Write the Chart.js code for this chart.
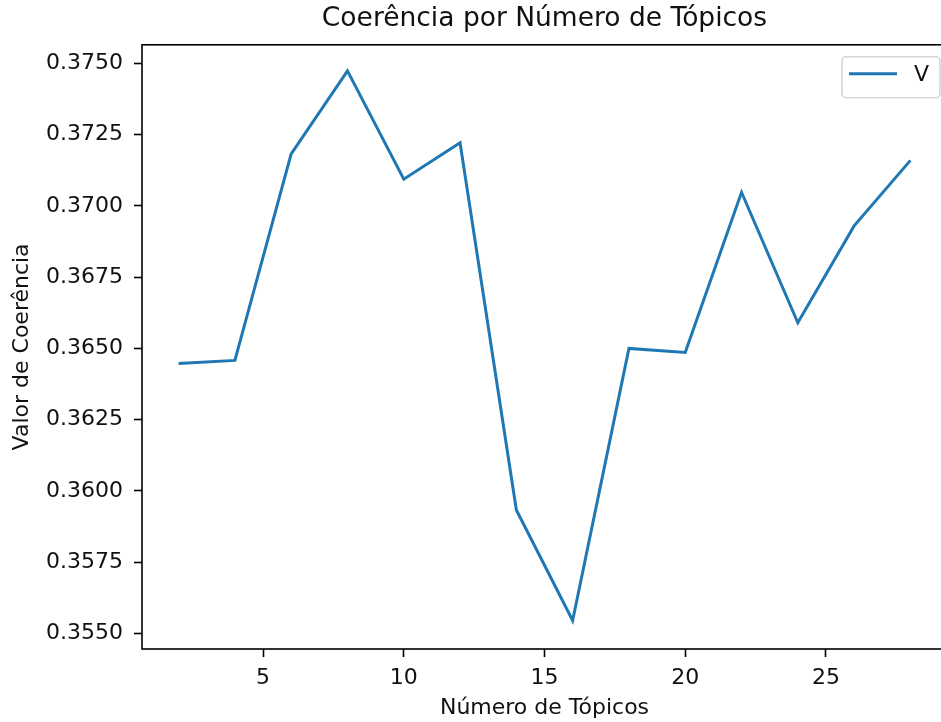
<!DOCTYPE html>
<html>
<head>
<meta charset="utf-8">
<script src="https://cdn.jsdelivr.net/npm/chart.js@4.4.1/dist/chart.umd.min.js"></script>
<style>
  html, body { margin: 0; padding: 0; background: #fff; overflow: hidden; }
  #wrap { width: 948px; height: 722px; }
</style>
</head>
<body>
<div id="wrap"><canvas id="coherenceChart" width="948" height="722"></canvas></div>
<script>
const topics = [2, 4, 6, 8, 10, 12, 14, 16, 18, 20, 22, 24, 26, 28];
const coherence = [0.36447, 0.36458, 0.37183, 0.37474, 0.37094, 0.37222, 0.35933, 0.35545,
                   0.36500, 0.36486, 0.37048, 0.36590, 0.36930, 0.37160];
const xTicks = [5, 10, 15, 20, 25];
const yTicks = [0.3550, 0.3575, 0.3600, 0.3625, 0.3650, 0.3675, 0.3700, 0.3725, 0.3750];
const seriesLabel = "V";

const FONT = "'DejaVu Sans', sans-serif";
const LINE_COLOR = "#1f77b4";
const TEXT = "#111";

// matplotlib-like frame (all four spines) and the boxed legend
const framePlugin = {
    id: "frame",
    afterDraw(chart) {
        const ctx = chart.ctx;
        const a = chart.chartArea;
        ctx.save();
        ctx.strokeStyle = "#000";
        ctx.lineWidth = 1.6;
        ctx.strokeRect(a.left, a.top, a.right - a.left, a.bottom - a.top);

        const bx = a.right - 105, by = a.top + 12, bw = 98, bh = 41;
        ctx.beginPath();
        ctx.roundRect(bx, by, bw, bh, 4);
        ctx.fillStyle = "rgba(255,255,255,0.8)";
        ctx.fill();
        ctx.strokeStyle = "#d6d6d6";
        ctx.lineWidth = 1.6;
        ctx.stroke();

        ctx.beginPath();
        ctx.moveTo(bx + 7, by + 17);
        ctx.lineTo(bx + 55, by + 17);
        ctx.strokeStyle = LINE_COLOR;
        ctx.lineWidth = 3;
        ctx.stroke();

        ctx.fillStyle = TEXT;
        ctx.font = "22px " + FONT;
        ctx.textBaseline = "middle";
        ctx.textAlign = "left";
        ctx.fillText(seriesLabel, bx + 72, by + 18);
        ctx.restore();
    }
};

const ctx = document.getElementById("coherenceChart").getContext("2d");

new Chart(ctx, {
    type: "line",
    data: {
        datasets: [{
            label: seriesLabel,
            data: topics.map((t, i) => ({ x: t, y: coherence[i] })),
            borderColor: LINE_COLOR,
            borderWidth: 3,
            pointRadius: 0,
            tension: 0,
            fill: false
        }]
    },
    options: {
        responsive: false,
        animation: false,
        layout: { padding: { top: 0, right: 1, bottom: 0, left: 0 } },
        plugins: {
            legend: { display: false },
            tooltip: { enabled: false },
            title: {
                display: true,
                fullSize: false,
                text: "Coerência por Número de Tópicos",
                color: TEXT,
                font: { family: FONT, size: 26.5, weight: "normal" },
                padding: { top: 3, bottom: 10 }
            }
        },
        scales: {
            x: {
                type: "linear",
                min: 0.7,
                max: 29.3,
                afterBuildTicks: (scale) => { scale.ticks = xTicks.map(v => ({ value: v })); },
                afterFit: (scale) => { scale.height = 73; },
                grid: { drawOnChartArea: false, tickLength: 8, color: "#000", tickWidth: 1.6 },
                border: { display: false },
                ticks: {
                    color: TEXT,
                    font: { family: FONT, size: 22 },
                    padding: 8,
                    maxRotation: 0
                },
                title: {
                    display: true,
                    text: "Número de Tópicos",
                    color: TEXT,
                    font: { family: FONT, size: 22 },
                    padding: { top: 0, bottom: 1 }
                }
            },
            y: {
                min: 0.35445,
                max: 0.375656,
                afterBuildTicks: (scale) => { scale.ticks = yTicks.map(v => ({ value: v })); },
                afterFit: (scale) => { scale.width = 142; },
                grid: { drawOnChartArea: false, tickLength: 8, color: "#000", tickWidth: 1.6 },
                border: { display: false },
                ticks: {
                    color: TEXT,
                    font: { family: FONT, size: 22 },
                    padding: 11,
                    callback: (v) => Number(v).toFixed(4)
                },
                title: {
                    display: true,
                    text: "Valor de Coerência",
                    color: TEXT,
                    font: { family: FONT, size: 22 },
                    padding: { top: 9, bottom: 0 }
                }
            }
        }
    },
    plugins: [framePlugin]
});
</script>
</body>
</html>
